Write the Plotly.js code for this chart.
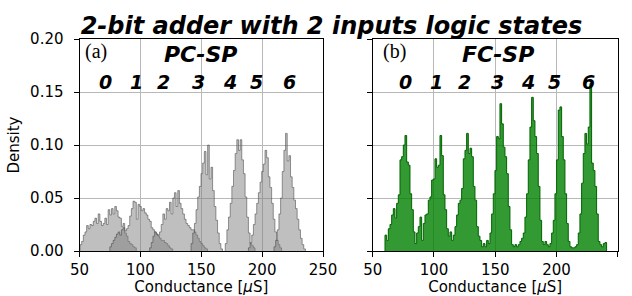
<!DOCTYPE html>
<html><head><meta charset="utf-8">
<script src="https://cdn.plot.ly/plotly-3.0.1.min.js"></script>
<style>html,body{margin:0;padding:0;background:#fff}</style>
</head><body>
<div id="chart" style="width:632px;height:296px"></div>
<script>
// ---- data ----
const binWidth = 1.36;
const pcStarts = [50.41, 74.91, 107.59, 141.64, 169.69, 188.75, 209.72];
const pcState0 = [0.006,0.009,0.015,0.018,0.024,0.021,0.025,0.024,0.028,0.031,0.026,0.035,0.028,0.024,0.026,0.031,0.025,0.039,0.034,0.040,0.035,0.042,0.038,0.032,0.031,0.023,0.026,0.017,0.014,0.009,0.007,0.006,0.004,0.003];
const pcState1 = [0.004,0.007,0.010,0.013,0.016,0.018,0.015,0.020,0.022,0.019,0.021,0.024,0.033,0.040,0.047,0.046,0.030,0.044,0.042,0.038,0.040,0.036,0.034,0.030,0.028,0.022,0.020,0.018,0.016,0.014,0.012,0.010,0.010,0.008,0.007,0.005,0.003,0.002];
const pcState2 = [0.003,0.008,0.014,0.018,0.016,0.015,0.018,0.025,0.035,0.030,0.040,0.038,0.046,0.035,0.050,0.055,0.042,0.057,0.045,0.040,0.035,0.030,0.026,0.024,0.022,0.020,0.020,0.018,0.015,0.012,0.009,0.007,0.005,0.003,0.002];
const pcState3 = [0.007,0.017,0.026,0.039,0.051,0.061,0.073,0.083,0.094,0.072,0.100,0.068,0.079,0.057,0.042,0.029,0.017,0.007,0.002];
const pcState4 = [0.007,0.020,0.032,0.045,0.061,0.076,0.092,0.105,0.095,0.105,0.086,0.073,0.051,0.032,0.017,0.007,0.005,0.003];
const pcState5 = [0.003,0.008,0.015,0.025,0.035,0.045,0.055,0.065,0.075,0.082,0.095,0.088,0.070,0.060,0.045,0.030,0.018,0.010,0.006,0.003];
const pcState6 = [0.004,0.010,0.020,0.035,0.050,0.075,0.095,0.111,0.085,0.090,0.070,0.060,0.048,0.040,0.030,0.020,0.012,0.006,0.002];
const pcStates = [pcState0, pcState1, pcState2, pcState3, pcState4, pcState5, pcState6];

const fcStart = 60.04;
const fcDensity = [
 0.015,0.010,0.021,0.025,0.034,0.040,0.031,0.045,0.053,0.086,0.089,0.100,0.109,0.084,0.081,0.054,0.039,0.018,0.007,0.017,
 0.023,0.032,0.010,0.026,0.034,0.035,0.048,0.051,0.067,0.068,0.087,0.079,0.081,0.109,0.090,0.053,0.039,0.021,0.014,0.018,
 0.010,0.015,0.023,0.034,0.045,0.048,0.059,0.087,0.095,0.111,0.092,0.097,0.089,0.061,0.048,0.023,0.014,0.010,0.004,0.007,
 0.004,0.010,0.007,
 0.017,0.035,0.054,0.076,0.108,0.106,0.139,0.120,0.098,0.089,0.073,0.042,0.020,0.006,0.004,0.006,0.004,0.006,0.009,0.012,
 0.017,0.032,0.054,0.086,0.117,0.145,0.123,0.108,0.092,0.061,0.029,0.009,0.006,0.009,0.006,0.004,0.007,
 0.017,0.029,0.054,0.086,0.133,0.136,0.108,0.086,0.054,0.026,0.009,0.004,0.003,0.003,0.004,0.006,
 0.017,0.035,0.064,0.092,0.111,0.101,0.117,0.158,0.083,0.076,0.061,0.035,0.009,0.006,0.004,0.007,0.008];

const stateLabels = ['0','1','2','3','4','5','6'];
const pcLabelX = [71.7, 97, 119, 147.6, 173.8, 195, 222.8];
const fcLabelX = [76.4, 102.2, 124.8, 152, 177, 198.8, 226];
const xTicks = [50, 100, 150, 200, 250];
const yTicks = [0, 0.05, 0.10, 0.15, 0.20];

// ---- build ----
function stepTrace(start, vals, xa, ya, fill, line) {
  const x = [start], y = [0];
  vals.forEach((v, i) => { x.push(start + i * binWidth); y.push(v); });
  const end = start + vals.length * binWidth;
  x.push(end); y.push(vals[vals.length - 1]);
  x.push(end); y.push(0);
  return {type: 'scatter', mode: 'lines', x: x, y: y, xaxis: xa, yaxis: ya,
    line: {shape: 'hv', color: line, width: 1}, fill: 'tozeroy', fillcolor: fill,
    hoverinfo: 'skip', showlegend: false};
}
const traces = [];
pcStates.forEach((s, i) => traces.push(stepTrace(pcStarts[i], s, 'x', 'y', 'rgba(128,128,128,0.5)', 'rgba(70,70,70,0.55)')));
traces.push(stepTrace(fcStart, fcDensity, 'x2', 'y2', 'rgba(0,128,0,0.8)', 'rgb(0,100,0)'));

const axBase = {range: [50, 250], tickvals: xTicks, ticks: 'outside', ticklen: 5, tickwidth: 1, tickcolor: '#000',
  showline: true, mirror: true, linecolor: '#000', linewidth: 1, showgrid: true, gridcolor: '#b8b8b8', gridwidth: 1,
  zeroline: false, tickfont: {family: 'DejaVu Sans', size: 15, color: '#000'},
  title: {text: 'Conductance [<i>μ</i>S]', font: {family: 'DejaVu Sans', size: 15, color: '#000'}, standoff: 4}};
const ayBase = {range: [0, 0.2], tickvals: yTicks, tickformat: '.2f', ticks: 'outside', ticklen: 5, tickwidth: 1, tickcolor: '#000',
  showline: true, mirror: true, linecolor: '#000', linewidth: 1, showgrid: true, gridcolor: '#b8b8b8', gridwidth: 1,
  zeroline: false, tickfont: {family: 'DejaVu Sans', size: 15, color: '#000'}, domain: [0.152, 0.868]};

const annotations = [];
const boldIt = {family: 'DejaVu Sans', size: 19, color: '#000', weight: 'bold', style: 'italic'};
stateLabels.forEach((t, i) => {
  annotations.push({x: pcLabelX[i], y: 0.1595, xref: 'x', yref: 'y', text: t, showarrow: false, font: boldIt});
  annotations.push({x: fcLabelX[i], y: 0.1595, xref: 'x2', yref: 'y2', text: t, showarrow: false, font: boldIt});
});
const bigBI = {family: 'DejaVu Sans', size: 24, color: '#000', weight: 'bold', style: 'italic'};
const subBI = {family: 'DejaVu Sans', size: 22, color: '#000', weight: 'bold', style: 'italic'};
annotations.push({x: 149.5, y: 0.1858, xref: 'x', yref: 'y', text: 'PC-SP', showarrow: false, font: subBI});
annotations.push({x: 152, y: 0.1858, xref: 'x2', yref: 'y2', text: 'FC-SP', showarrow: false, font: subBI});
const serif = {family: 'Liberation Serif', size: 20, color: '#000'};
annotations.push({x: 63.2, y: 0.1885, xref: 'x', yref: 'y', text: '(a)', showarrow: false, font: serif});
annotations.push({x: 67.4, y: 0.1885, xref: 'x2', yref: 'y2', text: '(b)', showarrow: false, font: serif});

const layout = {
  width: 632, height: 296, margin: {l: 0, r: 0, t: 0, b: 0},
  paper_bgcolor: '#fff', plot_bgcolor: '#fff',
  font: {family: 'DejaVu Sans', size: 15, color: '#000'},
  title: {text: '2-bit adder with 2 inputs logic states', font: bigBI,
    x: 0.5245, xanchor: 'center', xref: 'paper', y: 0.915, yanchor: 'middle', yref: 'container'},
  xaxis: Object.assign({}, axBase, {domain: [0.1258, 0.5111], anchor: 'y'}),
  yaxis: Object.assign({}, ayBase, {anchor: 'x', ticklabelstandoff: 7, title: {text: 'Density', font: {family: 'DejaVu Sans', size: 15, color: '#000'}, standoff: 6}}),
  xaxis2: Object.assign({}, axBase, {domain: [0.5897, 0.9774], anchor: 'y2'}),
  yaxis2: Object.assign({}, ayBase, {anchor: 'x2', showticklabels: false}),
  annotations: annotations
};
Plotly.newPlot('chart', traces, layout, {staticPlot: true, displayModeBar: false});
</script>
</body></html>
